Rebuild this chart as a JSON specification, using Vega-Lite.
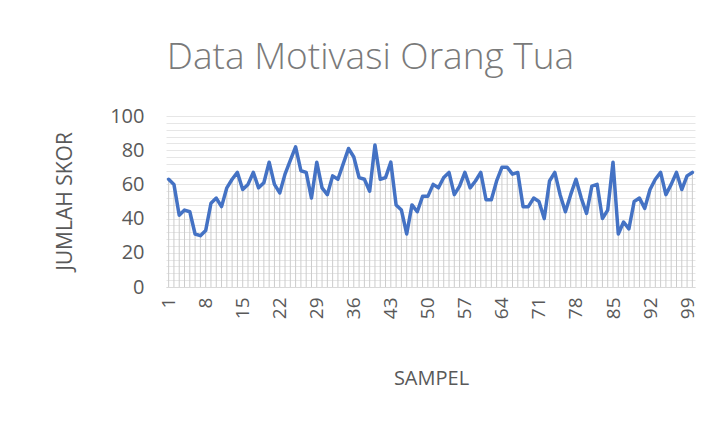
{
  "$schema": "https://vega.github.io/schema/vega-lite/v6.json",
  "autosize": {"type": "none"},
  "width": 529,
  "height": 171,
  "padding": {"left": 166, "top": 116, "right": 19, "bottom": 137},
  "background": "white",
  "title": {
    "text": "Data Motivasi Orang Tua",
    "font": "Open Sans",
    "fontWeight": 300,
    "fontSize": 37,
    "color": "#7a7a7a",
    "anchor": "middle",
    "dx": -60,
    "offset": 29
  },
  "data": {
    "values": [
      {"sampel": 1, "skor": 63}, {"sampel": 2, "skor": 60}, {"sampel": 3, "skor": 42}, {"sampel": 4, "skor": 45}, {"sampel": 5, "skor": 44},
      {"sampel": 6, "skor": 31}, {"sampel": 7, "skor": 30}, {"sampel": 8, "skor": 33}, {"sampel": 9, "skor": 49}, {"sampel": 10, "skor": 52},
      {"sampel": 11, "skor": 47}, {"sampel": 12, "skor": 58}, {"sampel": 13, "skor": 63}, {"sampel": 14, "skor": 67}, {"sampel": 15, "skor": 57},
      {"sampel": 16, "skor": 60}, {"sampel": 17, "skor": 67}, {"sampel": 18, "skor": 58}, {"sampel": 19, "skor": 61}, {"sampel": 20, "skor": 73},
      {"sampel": 21, "skor": 60}, {"sampel": 22, "skor": 55}, {"sampel": 23, "skor": 66}, {"sampel": 24, "skor": 74}, {"sampel": 25, "skor": 82},
      {"sampel": 26, "skor": 68}, {"sampel": 27, "skor": 67}, {"sampel": 28, "skor": 52}, {"sampel": 29, "skor": 73}, {"sampel": 30, "skor": 58},
      {"sampel": 31, "skor": 54}, {"sampel": 32, "skor": 65}, {"sampel": 33, "skor": 63}, {"sampel": 34, "skor": 72}, {"sampel": 35, "skor": 81},
      {"sampel": 36, "skor": 76}, {"sampel": 37, "skor": 64}, {"sampel": 38, "skor": 63}, {"sampel": 39, "skor": 56}, {"sampel": 40, "skor": 83},
      {"sampel": 41, "skor": 63}, {"sampel": 42, "skor": 64}, {"sampel": 43, "skor": 73}, {"sampel": 44, "skor": 48}, {"sampel": 45, "skor": 45},
      {"sampel": 46, "skor": 31}, {"sampel": 47, "skor": 48}, {"sampel": 48, "skor": 44}, {"sampel": 49, "skor": 53}, {"sampel": 50, "skor": 53},
      {"sampel": 51, "skor": 60}, {"sampel": 52, "skor": 58}, {"sampel": 53, "skor": 64}, {"sampel": 54, "skor": 67}, {"sampel": 55, "skor": 54},
      {"sampel": 56, "skor": 59}, {"sampel": 57, "skor": 67}, {"sampel": 58, "skor": 58}, {"sampel": 59, "skor": 62}, {"sampel": 60, "skor": 67},
      {"sampel": 61, "skor": 51}, {"sampel": 62, "skor": 51}, {"sampel": 63, "skor": 62}, {"sampel": 64, "skor": 70}, {"sampel": 65, "skor": 70},
      {"sampel": 66, "skor": 66}, {"sampel": 67, "skor": 67}, {"sampel": 68, "skor": 47}, {"sampel": 69, "skor": 47}, {"sampel": 70, "skor": 52},
      {"sampel": 71, "skor": 50}, {"sampel": 72, "skor": 40}, {"sampel": 73, "skor": 62}, {"sampel": 74, "skor": 67}, {"sampel": 75, "skor": 54},
      {"sampel": 76, "skor": 44}, {"sampel": 77, "skor": 54}, {"sampel": 78, "skor": 63}, {"sampel": 79, "skor": 52}, {"sampel": 80, "skor": 43},
      {"sampel": 81, "skor": 59}, {"sampel": 82, "skor": 60}, {"sampel": 83, "skor": 40}, {"sampel": 84, "skor": 45}, {"sampel": 85, "skor": 73},
      {"sampel": 86, "skor": 31}, {"sampel": 87, "skor": 38}, {"sampel": 88, "skor": 34}, {"sampel": 89, "skor": 50}, {"sampel": 90, "skor": 52},
      {"sampel": 91, "skor": 46}, {"sampel": 92, "skor": 57}, {"sampel": 93, "skor": 63}, {"sampel": 94, "skor": 67}, {"sampel": 95, "skor": 54},
      {"sampel": 96, "skor": 60}, {"sampel": 97, "skor": 67}, {"sampel": 98, "skor": 57}, {"sampel": 99, "skor": 65}, {"sampel": 100, "skor": 67}
    ]
  },
  "encoding": {
    "x": {
      "field": "sampel",
      "type": "quantitative",
      "scale": {"domain": [0.5, 100.5], "nice": false, "zero": false},
      "axis": {
        "values": [1, 8, 15, 22, 29, 36, 43, 50, 57, 64, 71, 78, 85, 92, 99],
        "format": "d",
        "grid": false,
        "ticks": false,
        "domainColor": "#d9d9d9",
        "domainWidth": 1,
        "labelAngle": -90,
        "labelFont": "Open Sans",
        "labelFontSize": 19,
        "labelColor": "#595959",
        "labelPadding": 10,
        "labelOverlap": false,
        "title": "SAMPEL",
        "titleFont": "Open Sans",
        "titleFontWeight": "normal",
        "titleFontSize": 20,
        "titleColor": "#595959",
        "titleBaseline": "middle",
        "titleX": 265,
        "titleY": 91
      }
    },
    "y": {
      "field": "skor",
      "type": "quantitative",
      "scale": {"domain": [0, 100], "nice": false},
      "axis": {
        "values": [0, 4, 8, 12, 16, 20, 24, 28, 32, 36, 40, 44, 48, 52, 56, 60, 64, 68, 72, 76, 80, 84, 88, 92, 96, 100],
        "labelExpr": "datum.value % 20 == 0 ? datum.label : ''",
        "grid": true,
        "gridColor": "#e6e6e6",
        "gridWidth": 1,
        "ticks": false,
        "domain": false,
        "labelFont": "Open Sans",
        "labelFontSize": 20,
        "labelColor": "#595959",
        "labelPadding": 22,
        "title": "JUMLAH SKOR",
        "titleFont": "Open Sans",
        "titleFontWeight": "normal",
        "titleFontSize": 21,
        "titleColor": "#595959",
        "titleBaseline": "middle",
        "titleX": -101,
        "titleY": 85
      }
    }
  },
  "layer": [
    {
      "mark": {"type": "rule", "color": "#cccccc", "strokeWidth": 1},
      "encoding": {"y2": {"datum": 0}}
    },
    {
      "mark": {"type": "line", "color": "#4472C4", "strokeWidth": 3.5, "strokeJoin": "round", "strokeCap": "round"}
    }
  ],
  "config": {"view": {"stroke": null}}
}
